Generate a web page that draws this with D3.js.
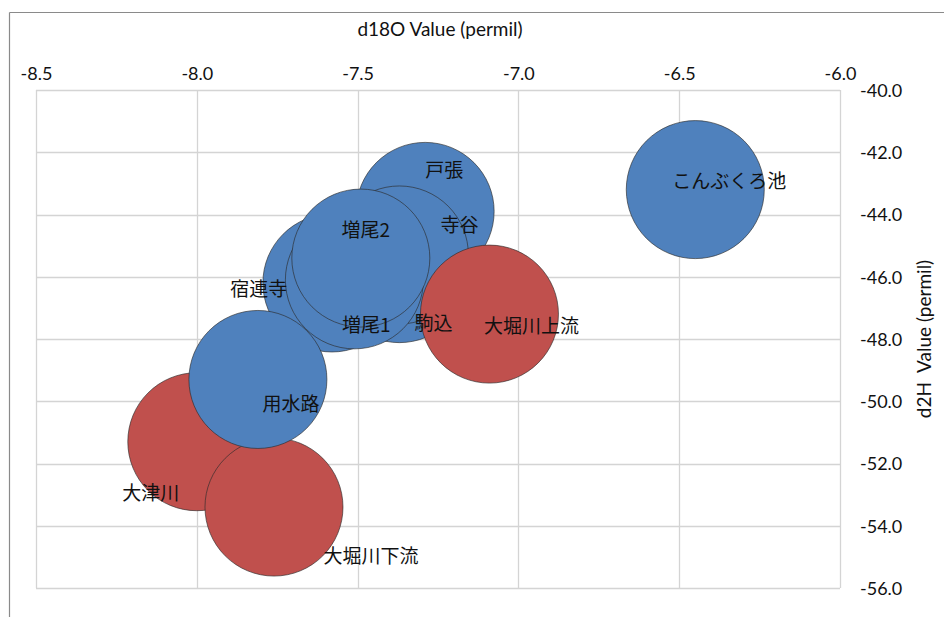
<!DOCTYPE html>
<html>
<head>
<meta charset="utf-8">
<script src="https://cdn.jsdelivr.net/npm/d3@7"></script>
<style>
body { margin: 0; background: #fff; }
svg { display: block; }
.tick_text { font-family: Lato, "Open Sans", sans-serif; font-size: 18px; fill: #111; }
.axis_title { font-family: Lato, "Open Sans", sans-serif; font-size: 19px; fill: #111; }
.bubble_label { font-family: "Noto Sans CJK JP", sans-serif; font-size: 19px; fill: #111; }
</style>
</head>
<body>
<svg id="chart" width="944" height="617"></svg>
<script>
// Sites, in draw order (later ones sit on top).
var names = ["大津川", "戸張", "駒込", "寺谷", "宿連寺", "増尾1", "増尾2",
             "大堀川下流", "用水路", "大堀川上流", "こんぶくろ池"];
var d18O = [-8.00, -7.29, -7.37, -7.37, -7.58, -7.51, -7.49, -7.76, -7.81, -7.09, -6.45];
var d2H = [-51.3, -43.9, -45.9, -45.3, -46.2, -46.1, -45.4, -53.4, -49.3, -47.2, -43.2];
var sizes = [1, 1, 1, 1, 1, 1, 1, 1, 1, 1, 1];
var groups = ["river", "pond", "pond", "pond", "pond", "pond", "pond", "river", "pond", "river", "pond"];

var xTicks = [-8.5, -8.0, -7.5, -7.0, -6.5, -6.0];
var yTicks = [-40, -42, -44, -46, -48, -50, -52, -54, -56];

// Where each label sits relative to its bubble (they were dragged by hand).
var labelDx = [-46, 19, 34, 60, -73, 12, 5, 97, 33, 42, 34];
var labelDy = [52, -41, 50, -30, 6, 45, -28, 49, 25, 12, -8];

var COLORS = {"pond": "#4F81BD", "river": "#C0504D"};

var svg = d3.select("#chart");

var x = d3.scaleLinear().domain([-8.5, -6.0]).range([36, 840]);
var y = d3.scaleLinear().domain([-40, -56]).range([90, 588]);
var r = d3.scaleSqrt().domain([0, 1]).range([0, 69]);

// Excel style: plain hyphen, one decimal
function fmt(d) {
    return (d < 0 ? "-" : "") + Math.abs(d).toFixed(1);
}

// chart frame
svg.append("line").attr("x1", 9.5).attr("y1", 12.5).attr("x2", 944).attr("y2", 12.5)
    .attr("stroke", "#8a8a8a").attr("stroke-width", 1.2);
svg.append("line").attr("x1", 9.5).attr("y1", 12.5).attr("x2", 9.5).attr("y2", 617)
    .attr("stroke", "#8a8a8a").attr("stroke-width", 1.2);

function draw_grid() {
    var g = svg.append("g").attr("class", "grid");
    g.selectAll("line.v").data(xTicks).enter()
        .append("line")
        .attr("x1", function(d) { return Math.round(x(d)) + 0.5; })
        .attr("x2", function(d) { return Math.round(x(d)) + 0.5; })
        .attr("y1", y(-40)).attr("y2", y(-56))
        .attr("stroke", "#d4d4d4").attr("stroke-width", 1.3);
    g.selectAll("line.h").data(yTicks).enter()
        .append("line")
        .attr("y1", function(d) { return Math.round(y(d)) + 0.5; })
        .attr("y2", function(d) { return Math.round(y(d)) + 0.5; })
        .attr("x1", x(-8.5)).attr("x2", x(-6.0))
        .attr("stroke", "#d4d4d4").attr("stroke-width", 1.3);
}

function draw_axes() {
    // x axis on top, labels only
    var xa = svg.append("g").attr("transform", "translate(0,80)")
        .call(d3.axisTop(x).tickValues(xTicks).tickFormat(fmt).tickSize(0).tickPadding(0));
    xa.select(".domain").remove();
    xa.selectAll("text").attr("class", "tick_text").attr("dy", 0);

    // y axis on the right, labels only
    var ya = svg.append("g").attr("transform", "translate(860,0)")
        .call(d3.axisRight(y).tickValues(yTicks).tickFormat(fmt).tickSize(0).tickPadding(0));
    ya.select(".domain").remove();
    ya.selectAll("text").attr("class", "tick_text").attr("dy", "0.35em");

    svg.append("text").attr("class", "axis_title")
        .attr("x", 440).attr("y", 36)
        .attr("text-anchor", "middle")
        .text("d18O Value (permil)");

    svg.append("text").attr("class", "axis_title")
        .attr("transform", "translate(931,339) rotate(-90)")
        .attr("text-anchor", "middle")
        .attr("xml:space", "preserve")
        .text("d2H  Value (permil)");
}

function draw_bubbles() {
    var idx = d3.range(names.length);
    svg.append("g").selectAll("circle").data(idx).enter()
        .append("circle")
        .attr("cx", function(i) { return x(d18O[i]); })
        .attr("cy", function(i) { return y(d2H[i]); })
        .attr("r", function(i) { return r(sizes[i]); })
        .attr("fill", function(i) { return COLORS[groups[i]]; })
        .attr("stroke", "#2b2b2b")
        .attr("stroke-opacity", 0.8)
        .attr("stroke-width", 0.8);

    svg.append("g").selectAll("text").data(idx).enter()
        .append("text")
        .attr("class", "bubble_label")
        .attr("x", function(i) { return x(d18O[i]) + labelDx[i]; })
        .attr("y", function(i) { return y(d2H[i]) + labelDy[i]; })
        .attr("text-anchor", "middle")
        .attr("dy", "0.35em")
        .text(function(i) { return names[i]; });
}

draw_grid();
draw_axes();
draw_bubbles();
</script>
</body>
</html>
